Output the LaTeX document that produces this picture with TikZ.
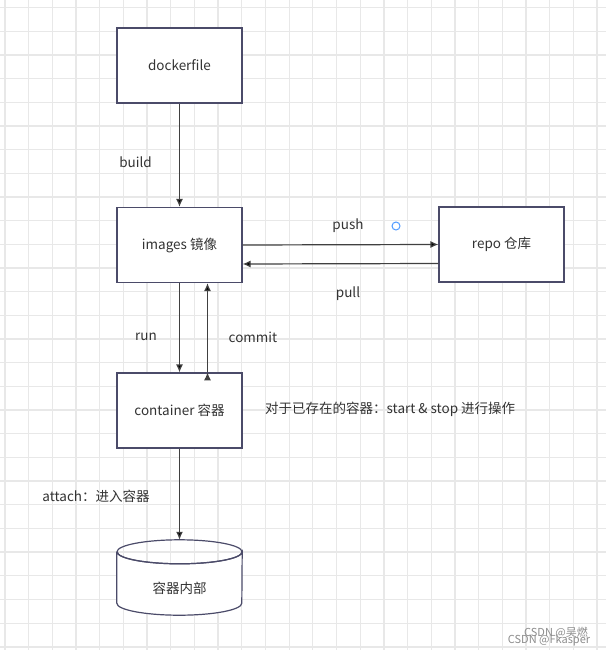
\documentclass[tikz,border=0pt]{standalone}
\usepackage{fontspec}
\setmainfont{Noto Sans CJK SC}
\usepackage{tikz}
\usetikzlibrary{arrows,arrows.meta,positioning}
\definecolor{txt}{RGB}{51,51,51}
\definecolor{edge}{RGB}{75,75,105}
\definecolor{gridc}{RGB}{232,232,232}
\definecolor{dot}{RGB}{80,155,255}
\tikzset{font=\fontsize{13.5}{16}\selectfont}
\tikzstyle{blk}=[draw=edge,line width=1.2pt,fill=white,text=txt,minimum width=125pt,minimum height=75pt,inner sep=0pt]
\tikzstyle{lbl}=[text=txt,inner sep=0pt]

\begin{document}
\begin{tikzpicture}[x=1pt,y=-1pt]
\fill[white] (0,0) rectangle (606,650);
\useasboundingbox (0,0) rectangle (606,650);
% grid
\foreach \k in {0,...,25}
  \draw[gridc,line width=1.3pt] (5+23.68*\k,0) -- (5+23.68*\k,650);
\foreach \k in {0,...,27}
  \draw[gridc,line width=1.3pt] (0,7.5+23.68*\k) -- (606,7.5+23.68*\k);

\node[blk] (docker) at (179.5,65.5) {dockerfile};
\node[blk] (images) at (179.5,245) {images 镜像};
\node[blk] (repo) at (501.5,244.5) {repo 仓库};
\node[blk] (container) at (179.5,410.5) {container 容器};
% cylinder
\node[minimum width=125pt,minimum height=75pt,inner sep=0pt] (inside) at (179.5,577.5) {};
\draw[edge,line width=1.2pt,fill=white]
  ([yshift=-12pt]inside.north west) -- ([yshift=12pt]inside.south west)
  arc (180:0:62.5 and 12) -- ([yshift=-12pt]inside.north east)
  arc (0:180:62.5 and 12);
\draw[edge,line width=1.2pt] ([yshift=-12pt]inside.north) ellipse (62.5 and 12);
\node[lbl] (insidetxt) at (179.5,588) {容器内部};

\path[->,draw=black!75,line width=1.2pt,>={Latex[length=8pt,width=7pt]}]
(docker) edge (images)
(images.east) edge (repo.west)
([yshift=-19pt]repo.west) edge ([yshift=-19pt]images.east)
(images) edge (container)
([xshift=28pt]container.north) edge ([xshift=28pt]images.south)
(container) edge (inside);

\node[lbl] (build) at (135.5,162) {build};
\node[lbl] (push) at (348,226) {push};
\node[lbl] (pull) at (348,294) {pull};
\node[lbl] (run) at (146,337) {run};
\node[lbl] (commit) at (253,337) {commit};
\node[lbl,anchor=west] (note) at (265,409) {对于已存在的容器：start \& stop 进行操作};
\node[lbl] (attach) at (96,496) {attach：进入容器};
\draw[dot,line width=1pt] (396,226) circle (4pt);

\node[lbl,text=black!45,font=\fontsize{11}{13}\selectfont] (mark1) at (556,633) {CSDN @吴燃};
\node[lbl,text=black!45,font=\fontsize{11}{13}\selectfont] (mark2) at (549,640) {CSDN @Fkasper};
\end{tikzpicture}
\end{document}
